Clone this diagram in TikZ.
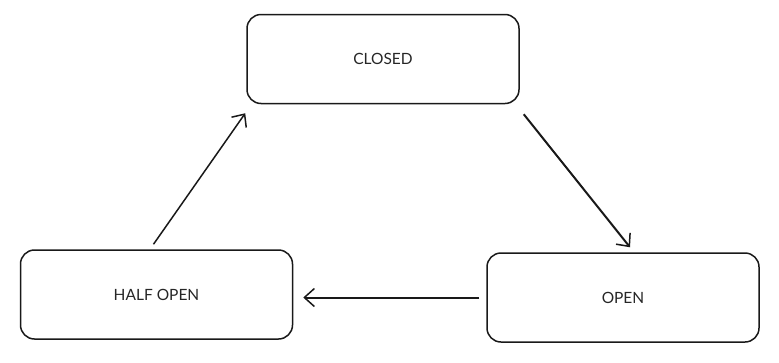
\documentclass[tikz,border=0pt]{standalone}
\usepackage{fontspec}
\setmainfont{Lato}
\usetikzlibrary{arrows.meta}
\begin{document}
\begin{tikzpicture}[x=1pt,y=1pt,
  state/.style={draw=black!90, line width=1.5pt, rounded corners=14pt, minimum width=272pt, minimum height=89pt, inner sep=0pt, font=\fontsize{15.5}{18}\selectfont, text=black!85},
  conn/.style={draw=black!90, line width=1.5pt, -{Straight Barb[length=10pt,width=18pt,line width=1.5pt]}}]
\useasboundingbox (0,0) rectangle (779,-362);
\node[state] (c) at (383,-59) {CLOSED};
\node[state] (h) at (156.5,-294.5) {HALF OPEN};
\node[state] (o) at (623,-297.5) {OPEN};
\draw[conn] ([xshift=-3pt,yshift=5pt]h.north) -- ([xshift=-1pt,yshift=-9pt]c.south west);
\draw[conn, line width=2pt] ([xshift=4pt,yshift=-10pt]c.south east) -- ([xshift=7pt,yshift=5pt]o.north);
\draw[conn, line width=2pt] ([xshift=-7pt,yshift=0pt]o.west) -- ([xshift=10pt,yshift=-3pt]h.east);
\end{tikzpicture}
\end{document}
